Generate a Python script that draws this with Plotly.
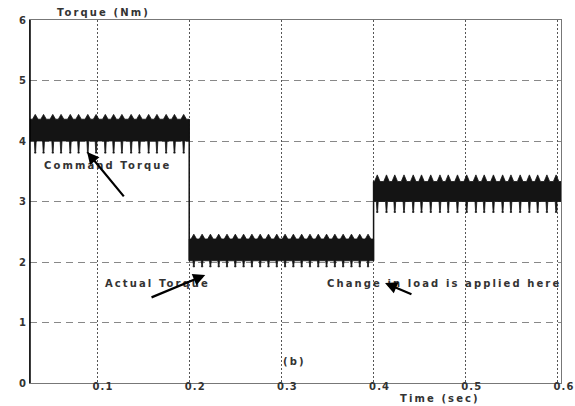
import plotly.graph_objects as go

# ---- data ----
seg_bounds = [0.0273, 0.2, 0.4, 0.6033]        # segment start/end times (s)
band_low = [4.00, 2.02, 3.00]                  # lower edge of dense ripple band (Nm)
band_high = [4.36, 2.38, 3.33]                 # upper edge of dense ripple band (Nm)
bump_high = [4.44, 2.46, 3.44]                 # tips of upward ripple peaks (Nm)
spike_low = [3.80, 1.92, 2.82]                 # tips of downward ripple spikes (Nm)
spike_t1 = [0.033, 0.042, 0.052, 0.061, 0.071, 0.080, 0.090, 0.099, 0.109,
            0.118, 0.127, 0.137, 0.146, 0.156, 0.165, 0.175, 0.184, 0.194]
spike_t2 = [0.205, 0.214, 0.223, 0.232, 0.241, 0.250, 0.259, 0.268, 0.277,
            0.286, 0.295, 0.304, 0.313, 0.322, 0.331, 0.340, 0.349, 0.358,
            0.367, 0.376, 0.385, 0.394]
spike_t3 = [0.404, 0.414, 0.423, 0.433, 0.443, 0.452, 0.462, 0.472, 0.481,
            0.491, 0.501, 0.511, 0.520, 0.530, 0.540, 0.549, 0.559, 0.569,
            0.578, 0.588, 0.598]
x_ticks = [0.1, 0.2, 0.3, 0.4, 0.5, 0.6]
y_ticks = [0, 1, 2, 3, 4, 5, 6]

spikes = [spike_t1, spike_t2, spike_t3]
INK = "#141414"
fig = go.Figure()

hw_up = 0.0030
hw_dn = 0.0010
for i in range(3):
    t0, t1 = seg_bounds[i], seg_bounds[i + 1]
    hi, lo, bh, sl = band_high[i], band_low[i], bump_high[i], spike_low[i]
    xs = [t0]
    ys = [hi]
    for t in spikes[i]:
        xs += [t - hw_up, t, t + hw_up]
        ys += [hi, bh, hi]
    xs += [t1, t1]
    ys += [hi, lo]
    for t in reversed(spikes[i]):
        xs += [t + hw_dn, t + 0.0004, t + 0.0008, t - 0.0008, t - 0.0004, t - hw_dn]
        ys += [lo, sl + 0.03, sl, sl, sl + 0.03, lo]
    xs += [t0, t0]
    ys += [lo, hi]
    fig.add_trace(go.Scatter(x=xs, y=ys, mode="lines", fill="toself",
                             fillcolor=INK, line=dict(color=INK, width=0.8),
                             hoverinfo="skip", showlegend=False))

# step transitions
fig.add_trace(go.Scatter(x=[seg_bounds[1], seg_bounds[1]], y=[band_high[0], band_low[1]],
                         mode="lines", line=dict(color=INK, width=1.5), showlegend=False))
fig.add_trace(go.Scatter(x=[seg_bounds[2], seg_bounds[2]], y=[band_low[1], band_high[2]],
                         mode="lines", line=dict(color=INK, width=1.5), showlegend=False))

FONT = "DejaVu Sans, Liberation Sans, sans-serif"
txt = dict(family=FONT, size=10, color="#333333", weight="bold")

def wide(s, sp=2.1):
    return f"<span style='letter-spacing:{sp}px'>{s}</span>"

def arrow(hx, hy, tx, ty):
    fig.add_annotation(x=hx, y=hy, ax=tx, ay=ty, xref="x", yref="y", axref="x", ayref="y",
                       text="", showarrow=True, arrowhead=2, arrowsize=1.1,
                       arrowwidth=2.2, arrowcolor="black")

fig.add_annotation(x=0.1114, y=3.60, text=wide("Command Torque"), showarrow=False, font=txt)
arrow(0.0892, 3.82, 0.1304, 3.06)
fig.add_annotation(x=0.166, y=1.65, text=wide("Actual Torque"), showarrow=False, font=txt)
arrow(0.2174, 1.785, 0.1575, 1.405)
fig.add_annotation(x=0.4764, y=1.65, text=wide("Change in load is applied here"), showarrow=False, font=txt)
arrow(0.4124, 1.653, 0.4427, 1.455)
fig.add_annotation(x=0.3145, y=0.36, text=wide("(b)"), showarrow=False, font=txt)

fig.add_annotation(xref="paper", yref="paper", x=0.139, y=1.022, xanchor="center", yanchor="middle",
                   text=wide("Torque (Nm)"), showarrow=False, font=txt)
fig.add_annotation(xref="paper", yref="paper", x=0.772, y=-0.043, xanchor="center", yanchor="middle",
                   text=wide("Time (sec)"), showarrow=False, font=txt)

fig.update_layout(
    width=575, height=406,
    margin=dict(l=30, r=14, t=20, b=23),
    paper_bgcolor="white", plot_bgcolor="white",
    showlegend=False,
)
tickfont = dict(family=FONT, size=10, color="#333333", weight="bold")
fig.update_xaxes(range=[seg_bounds[0], seg_bounds[-1]], tickvals=x_ticks,
                 ticktext=[wide(f"{v:.1f}", 1.1) for v in x_ticks], automargin=False,
                 ticklabelshift=6, ticklabelstandoff=-6,
                 showgrid=True, gridcolor="#555", griddash="2px,2px", gridwidth=1,
                 showline=True, linecolor="#777", linewidth=1, mirror=True,
                 zeroline=False, ticks="", tickfont=tickfont)
fig.update_yaxes(range=[0, 6], tickvals=y_ticks, automargin=False,
                 ticktext=[wide(str(v), 1.1) for v in y_ticks],
                 showgrid=True, gridcolor="#888", griddash="7px,5px", gridwidth=1,
                 showline=True, linecolor="#777", linewidth=1, mirror=True,
                 zeroline=False, ticks="", tickfont=tickfont)
# darker left spine
fig.add_shape(type="line", xref="paper", yref="paper", x0=0, x1=0, y0=0, y1=1,
              line=dict(color="black", width=1.5))

fig.write_html("out.html", config={"displayModeBar": False},
               post_script="document.body.style.margin='0';document.body.style.overflow='hidden';")
